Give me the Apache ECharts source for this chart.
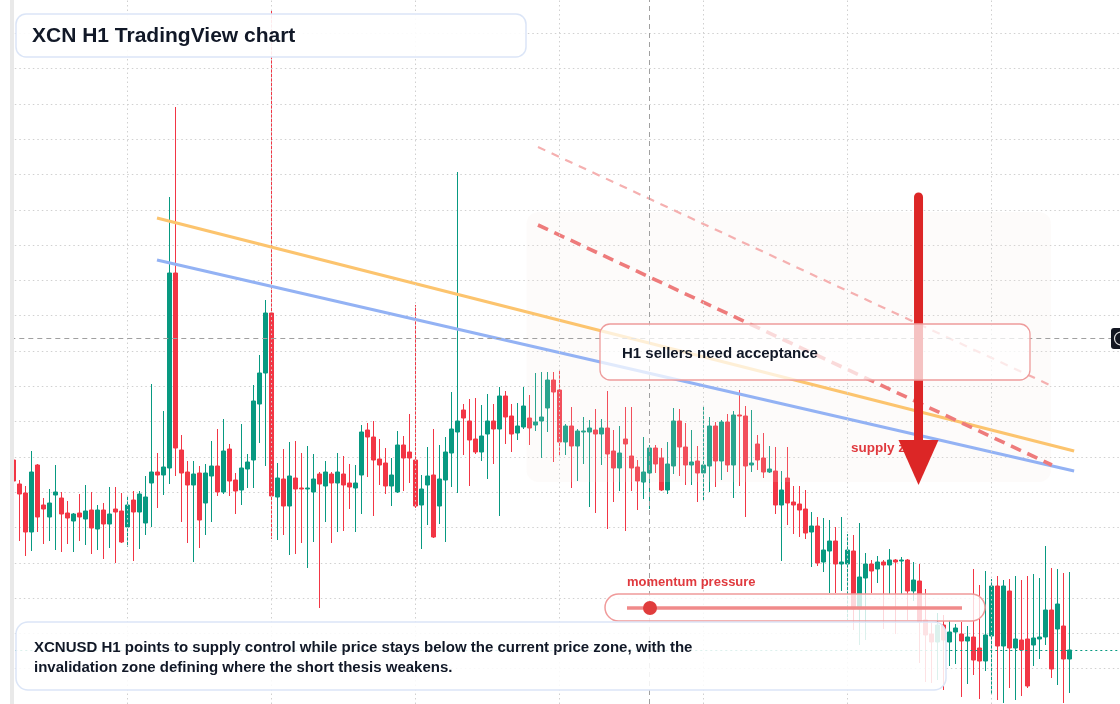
<!DOCTYPE html>
<html><head><meta charset="utf-8">
<script src="https://cdn.jsdelivr.net/npm/echarts@6/dist/echarts.min.js"></script>
<style>html,body{margin:0;padding:0;background:#fff;overflow:hidden}#c{width:1120px;height:704px}</style>
</head><body><div id="c"></div>
<script>
// XCNUSD H1 candles (USD)
const OPEN = [
0.0244,0.0220,0.0211,0.0172,0.0239,0.0199,0.0187,0.0209,0.0206,0.0191,
0.0183,0.0191,0.0185,0.0194,0.0175,0.0194,0.0180,0.0195,0.0193,0.0177,
0.0204,0.0192,0.0181,0.0221,0.0232,0.0229,0.0236,0.0431,0.0254,0.0232,
0.0219,0.0231,0.0201,0.0228,0.0238,0.0212,0.0255,0.0224,0.0214,0.0235,
0.0244,0.0300,0.0331,0.0391,0.0207,0.0225,0.0198,0.0226,0.0216,0.0215,
0.0212,0.0230,0.0218,0.0230,0.0221,0.0230,0.0221,0.0216,0.0229,0.0274,
0.0267,0.0245,0.0241,0.0218,0.0212,0.0259,0.0252,0.0244,0.0199,0.0219,
0.0229,0.0198,0.0224,0.0251,0.0272,0.0294,0.0283,0.0265,0.0252,0.0270,
0.0283,0.0275,0.0308,0.0288,0.0271,0.0277,0.0286,0.0279,0.0283,0.0296,
0.0324,0.0314,0.0262,0.0278,0.0258,0.0272,0.0272,0.0274,0.0270,0.0276,
0.0253,0.0236,0.0265,0.0248,0.0237,0.0222,0.0231,0.0256,0.0246,0.0214,
0.0238,0.0283,0.0257,0.0239,0.0243,0.0231,0.0238,0.0278,0.0243,0.0282,
0.0239,0.0289,0.0288,0.0239,0.0260,0.0246,0.0232,0.0233,0.0199,0.0226,
0.0202,0.0200,0.0195,0.0172,0.0178,0.0142,0.0153,0.0163,0.0140,0.0140,
0.0153,0.0095,0.0126,0.0140,0.0135,0.0142,0.0139,0.0144,0.0143,0.0144,
0.0113,0.0123,0.0084,0.0070,0.0062,0.0079,0.0062,0.0072,0.0070,0.0063,
0.0067,0.0056,0.0043,0.0068,0.0118,0.0058,0.0113,0.0056,0.0064,0.0065,
0.0059,0.0065,0.0067,0.0094,0.0075,0.0078,0.0045];
const CLOSE = [
0.0223,0.0210,0.0172,0.0232,0.0187,0.0195,0.0201,0.0212,0.0190,0.0186,
0.0190,0.0187,0.0193,0.0176,0.0194,0.0180,0.0190,0.0192,0.0162,0.0199,
0.0192,0.0210,0.0207,0.0232,0.0229,0.0237,0.0431,0.0256,0.0231,0.0219,
0.0230,0.0184,0.0231,0.0238,0.0212,0.0253,0.0223,0.0213,0.0236,0.0242,
0.0303,0.0331,0.0391,0.0208,0.0226,0.0198,0.0228,0.0215,0.0215,0.0216,
0.0225,0.0220,0.0232,0.0221,0.0232,0.0219,0.0217,0.0221,0.0272,0.0267,
0.0244,0.0239,0.0218,0.0229,0.0259,0.0246,0.0246,0.0198,0.0215,0.0228,
0.0167,0.0225,0.0252,0.0275,0.0283,0.0286,0.0264,0.0252,0.0268,0.0283,
0.0275,0.0308,0.0287,0.0270,0.0278,0.0298,0.0276,0.0282,0.0287,0.0324,
0.0312,0.0262,0.0278,0.0258,0.0273,0.0273,0.0276,0.0270,0.0276,0.0250,
0.0236,0.0251,0.0260,0.0236,0.0223,0.0232,0.0256,0.0240,0.0214,0.0240,
0.0283,0.0257,0.0239,0.0242,0.0231,0.0239,0.0278,0.0243,0.0282,0.0239,
0.0289,0.0288,0.0238,0.0241,0.0244,0.0232,0.0235,0.0199,0.0214,0.0201,
0.0199,0.0194,0.0171,0.0178,0.0141,0.0154,0.0163,0.0140,0.0142,0.0154,
0.0095,0.0127,0.0140,0.0133,0.0142,0.0139,0.0144,0.0142,0.0144,0.0113,
0.0124,0.0082,0.0069,0.0062,0.0079,0.0064,0.0072,0.0076,0.0063,0.0067,
0.0044,0.0043,0.0069,0.0118,0.0058,0.0118,0.0056,0.0065,0.0054,0.0018,
0.0066,0.0067,0.0094,0.0035,0.0100,0.0045,0.0054];
const LOW = [
0.0221,0.0163,0.0148,0.0153,0.0172,0.0160,0.0163,0.0154,0.0152,0.0160,
0.0152,0.0163,0.0159,0.0150,0.0154,0.0145,0.0156,0.0141,0.0161,0.0157,
0.0143,0.0155,0.0169,0.0177,0.0196,0.0209,0.0220,0.0228,0.0182,0.0161,
0.0142,0.0156,0.0169,0.0182,0.0208,0.0210,0.0208,0.0190,0.0199,0.0216,
0.0216,0.0261,0.0238,0.0165,0.0164,0.0169,0.0149,0.0150,0.0161,0.0136,
0.0162,0.0096,0.0182,0.0161,0.0172,0.0173,0.0195,0.0172,0.0190,0.0227,
0.0188,0.0219,0.0210,0.0198,0.0211,0.0213,0.0221,0.0196,0.0155,0.0179,
0.0166,0.0180,0.0162,0.0217,0.0211,0.0249,0.0218,0.0250,0.0243,0.0225,
0.0240,0.0188,0.0260,0.0252,0.0264,0.0275,0.0259,0.0273,0.0246,0.0272,
0.0242,0.0248,0.0249,0.0216,0.0223,0.0240,0.0197,0.0191,0.0239,0.0175,
0.0202,0.0213,0.0173,0.0213,0.0194,0.0205,0.0195,0.0231,0.0213,0.0210,
0.0230,0.0228,0.0219,0.0219,0.0202,0.0204,0.0212,0.0217,0.0224,0.0232,
0.0206,0.0218,0.0187,0.0232,0.0234,0.0226,0.0231,0.0190,0.0143,0.0179,
0.0170,0.0167,0.0165,0.0137,0.0138,0.0132,0.0111,0.0111,0.0113,0.0084,
0.0074,0.0059,0.0064,0.0111,0.0121,0.0075,0.0110,0.0070,0.0110,0.0084,
0.0103,0.0041,0.0022,0.0021,0.0024,0.0014,0.0038,0.0040,0.0007,0.0020,
0.0029,0.0005,0.0033,0.0009,0.0004,0.0001,0.0016,0.0004,0.0008,0.0016,
0.0038,0.0045,0.0059,0.0026,0.0019,0.0001,0.0011];
const HIGH = [
0.0246,0.0224,0.0218,0.0253,0.0240,0.0206,0.0215,0.0239,0.0212,0.0203,
0.0191,0.0210,0.0219,0.0212,0.0199,0.0201,0.0217,0.0217,0.0211,0.0208,
0.0213,0.0213,0.0228,0.0320,0.0251,0.0293,0.0507,0.0597,0.0269,0.0243,
0.0243,0.0238,0.0240,0.0263,0.0275,0.0285,0.0260,0.0231,0.0280,0.0250,
0.0319,0.0349,0.0404,0.0693,0.0241,0.0255,0.0262,0.0263,0.0251,0.0258,
0.0250,0.0232,0.0243,0.0232,0.0251,0.0248,0.0240,0.0239,0.0279,0.0281,
0.0283,0.0265,0.0256,0.0246,0.0273,0.0268,0.0290,0.0399,0.0229,0.0257,
0.0275,0.0259,0.0267,0.0312,0.0532,0.0300,0.0305,0.0306,0.0299,0.0310,
0.0300,0.0317,0.0313,0.0300,0.0301,0.0317,0.0309,0.0331,0.0332,0.0332,
0.0332,0.0333,0.0280,0.0297,0.0275,0.0287,0.0284,0.0295,0.0285,0.0313,
0.0274,0.0278,0.0297,0.0297,0.0244,0.0267,0.0259,0.0259,0.0256,0.0262,
0.0296,0.0295,0.0281,0.0274,0.0258,0.0298,0.0287,0.0282,0.0284,0.0290,
0.0293,0.0314,0.0298,0.0294,0.0269,0.0271,0.0258,0.0257,0.0233,0.0257,
0.0218,0.0218,0.0214,0.0192,0.0187,0.0186,0.0184,0.0177,0.0187,0.0170,
0.0169,0.0181,0.0151,0.0144,0.0148,0.0144,0.0155,0.0145,0.0147,0.0145,
0.0142,0.0140,0.0115,0.0081,0.0091,0.0089,0.0084,0.0080,0.0082,0.0078,
0.0135,0.0119,0.0133,0.0125,0.0128,0.0124,0.0125,0.0128,0.0124,0.0128,
0.0130,0.0126,0.0158,0.0136,0.0135,0.0131,0.0132];

const RIGHT_PAD = 8;                 // empty future hourly slots
const START_UTC = Date.UTC(2025, 5, 2, 0);
const TIMES = [];
for (let i = 0; i < OPEN.length + RIGHT_PAD; i++) {
  TIMES.push(new Date(START_UTC + i * 3600e3).toISOString().slice(5, 16).replace('T', ' '));
}

// reference levels / drawings (bar index, price)
const TIME_GRID_BARS = [19, 43, 67, 91, 115, 139, 163];
const CROSS_BAR = 106;
const CROSS_PRICE = 0.0366;
const LAST_PRICE = 0.0054;
const ORANGE_TREND = [[23.95, 0.0486], [176.8, 0.0253]];
const BLUE_TREND = [[23.95, 0.0444], [176.8, 0.0233]];
const SUPPLY_UPPER = [[87.45, 0.0557], [173.1, 0.0318]];
const SUPPLY_LOWER = [[87.45, 0.0479], [173.1, 0.0239]];
const SUPPLY_ZONE = [[85.53, 0.0492, 172.95, 0.0222]];
const ARROW_SHAFT = [[150.87, 0.0507], [150.87, 0.0262]];
const ARROW_HEAD = [[150.87, 0.02415]];

const N = OPEN.length + RIGHT_PAD;
const candles = TIMES.map((t, i) => i < OPEN.length ? [OPEN[i], CLOSE[i], LOW[i], HIGH[i]] : '-');

const UP = '#089981', DOWN = '#f23645';
const FONT = '"Liberation Sans", Arial, sans-serif';
const dotted = { color: '#d0d0d0', type: [1.5, 3], width: 1 };

const chart = echarts.init(document.getElementById('c'), null, { renderer: 'canvas' });
chart.setOption({
  animation: false,
  backgroundColor: '#ffffff',
  grid: { left: 10.3, right: -0.3, top: 0, bottom: 0, outerBoundsMode: 'none', containLabel: false },
  xAxis: [
    { type: 'category', data: TIMES, boundaryGap: true, axisLine: { show: false }, axisTick: { show: false }, axisLabel: { show: false }, splitLine: { show: false } },
    { type: 'value', min: -0.5, max: N - 0.5, show: false }
  ],
  yAxis: {
    type: 'value', min: 0, max: 0.0704, interval: 0.00353,
    axisLine: { show: false }, axisTick: { show: false }, axisLabel: { show: false },
    splitLine: { show: true, showMinLine: false, showMaxLine: false, lineStyle: dotted }
  },
  series: [
    { // time grid + last price line
      type: 'line', xAxisIndex: 1, data: [], z: 1, silent: true,
      markLine: {
        silent: true, symbol: ['none', 'none'], label: { show: false }, animation: false, precision: 6,
        data: TIME_GRID_BARS.map(b => ({ xAxis: b, lineStyle: dotted }))
          .concat([{ yAxis: LAST_PRICE, lineStyle: { color: UP, type: [2, 3], width: 1 } }])
      }
    },
    {
      type: 'candlestick', data: candles, barWidth: 4, z: 2, silent: true,
      itemStyle: { color: UP, color0: DOWN, borderColor: UP, borderColor0: DOWN, borderColorDoji: UP, borderWidth: 1 }
    },
    { // supply zone
      type: 'custom', xAxisIndex: 1, z: 3, silent: true, data: SUPPLY_ZONE,
      encode: { x: [0, 2], y: [1, 3] },
      renderItem: (params, api) => {
        const a = api.coord([api.value(0), api.value(1)]);
        const b = api.coord([api.value(2), api.value(3)]);
        return { type: 'rect', shape: { x: a[0], y: a[1], width: b[0] - a[0], height: b[1] - a[1], r: 12 },
                 style: { fill: 'rgba(242,228,222,0.15)' } };
      }
    },
    { type: 'line', xAxisIndex: 1, data: ORANGE_TREND, z: 4, silent: true, symbol: 'none',
      lineStyle: { color: '#fcc46e', width: 3.2 } },
    { type: 'line', xAxisIndex: 1, data: BLUE_TREND, z: 4, silent: true, symbol: 'none',
      lineStyle: { color: '#93b2f4', width: 3 } },
    { type: 'line', xAxisIndex: 1, data: SUPPLY_UPPER, z: 4, silent: true, symbol: 'none',
      lineStyle: { color: '#f5b0b0', width: 2.2, type: [8, 7] } },
    { type: 'line', xAxisIndex: 1, data: SUPPLY_LOWER, z: 4, silent: true, symbol: 'none',
      lineStyle: { color: '#ee7b7b', width: 3.6, type: [11, 7] } },
    { // crosshair
      type: 'line', xAxisIndex: 1, data: [], z: 4, silent: true,
      markLine: {
        silent: true, symbol: ['none', 'none'], label: { show: false }, animation: false, precision: 6,
        lineStyle: { color: '#a0a0a0', type: [5, 4], width: 1 },
        data: [{ xAxis: CROSS_BAR }, { yAxis: CROSS_PRICE }]
      }
    },
    { type: 'line', xAxisIndex: 1, data: ARROW_SHAFT, z: 6, silent: true, symbol: 'none',
      lineStyle: { color: '#dc2626', width: 9, cap: 'round' } },
    { type: 'scatter', xAxisIndex: 1, data: ARROW_HEAD, z: 6, silent: true,
      symbol: 'triangle', symbolSize: [40, 45], symbolRotate: 180,
      itemStyle: { color: '#dc2626', opacity: 1 } }
  ],
  graphic: [
    { type: 'rect', z: 15, silent: true, shape: { x: 10, y: 0, width: 4, height: 704 }, style: { fill: '#e9e9e9' } },
    { type: 'text', z: 5, silent: true, x: 851, y: 448,
      style: { text: 'supply zone', font: 'bold 13.5px ' + FONT, fill: '#e0393e', verticalAlign: 'middle', align: 'left' } },
    // title
    { type: 'rect', z: 20, silent: true, shape: { x: 16, y: 14, width: 510, height: 43, r: 10 },
      style: { fill: 'rgba(255,255,255,0.9)', stroke: '#dbe5f7', lineWidth: 1.5 } },
    { type: 'text', z: 21, silent: true, x: 32, y: 36,
      style: { text: 'XCN H1 TradingView chart', font: 'bold 21px ' + FONT, fill: '#111827', verticalAlign: 'middle', align: 'left' } },
    // sellers box
    { type: 'rect', z: 20, silent: true, shape: { x: 600, y: 324, width: 430, height: 56, r: 10 },
      style: { fill: 'rgba(255,255,255,0.72)', stroke: '#ee9c9c', lineWidth: 1.3 } },
    { type: 'text', z: 21, silent: true, x: 622, y: 354,
      style: { text: 'H1 sellers need acceptance', font: 'bold 15px ' + FONT, fill: '#111827', verticalAlign: 'middle', align: 'left' } },
    // momentum pressure
    { type: 'text', z: 21, silent: true, x: 627, y: 582,
      style: { text: 'momentum pressure', font: 'bold 13px ' + FONT, fill: '#e0393e', verticalAlign: 'middle', align: 'left' } },
    { type: 'rect', z: 20, silent: true, shape: { x: 605, y: 594, width: 380, height: 27, r: 13.5 },
      style: { fill: 'rgba(255,255,255,0.8)', stroke: '#f09a9a', lineWidth: 1.5 } },
    { type: 'line', z: 21, silent: true, shape: { x1: 627, y1: 608, x2: 962, y2: 608 },
      style: { stroke: '#f08a8a', lineWidth: 3.5 } },
    { type: 'circle', z: 22, silent: true, shape: { cx: 650, cy: 608, r: 7 }, style: { fill: '#e03c3c' } },
    // bottom note
    { type: 'rect', z: 20, silent: true, shape: { x: 16, y: 622, width: 930, height: 68, r: 12 },
      style: { fill: 'rgba(255,255,255,0.86)', stroke: '#dbe5f7', lineWidth: 1.5 } },
    { type: 'text', z: 21, silent: true, x: 34, y: 648,
      style: { text: 'XCNUSD H1 points to supply control while price stays below the current price zone, with the', font: 'bold 15px ' + FONT, fill: '#111827', verticalAlign: 'middle', align: 'left' } },
    { type: 'text', z: 21, silent: true, x: 34, y: 668,
      style: { text: 'invalidation zone defining where the short thesis weakens.', font: 'bold 15px ' + FONT, fill: '#111827', verticalAlign: 'middle', align: 'left' } },
    // right price tag stub
    { type: 'rect', z: 20, silent: true, shape: { x: 1111, y: 328, width: 14, height: 21, r: 3 }, style: { fill: '#131722' } },
    { type: 'circle', z: 21, silent: true, shape: { cx: 1121, cy: 338.5, r: 6.5 }, style: { fill: 'none', stroke: '#e0e0e0', lineWidth: 1.2 } }
  ]
});
</script>
</body></html>
